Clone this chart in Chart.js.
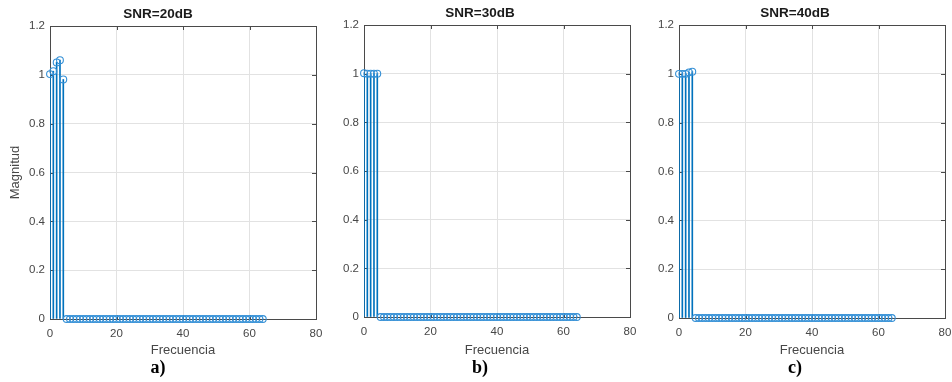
<!DOCTYPE html>
<html>
<head>
<meta charset="utf-8">
<script src="https://cdn.jsdelivr.net/npm/chart.js@4/dist/chart.umd.min.js"></script>
<style>
    html, body {margin: 0; padding: 0; background: #fff; overflow: hidden;}
    #wrap {position: relative; width: 952px; height: 382px; overflow: hidden;}
    #wrap canvas {position: absolute; top: 0;}
</style>
</head>
<body>
<div id="wrap">
    <canvas id="chartA"></canvas>
    <canvas id="chartB"></canvas>
    <canvas id="chartC"></canvas>
</div>
<script>
// frequency bins
const freqBins = [
    0, 1, 2, 3, 4, 5, 6, 7, 8, 9, 10, 11, 12, 13, 14, 15, 16, 17, 18, 19, 20, 21,
    22, 23, 24, 25, 26, 27, 28, 29, 30, 31, 32, 33, 34, 35, 36, 37, 38, 39, 40, 41, 42,
    43, 44, 45, 46, 47, 48, 49, 50, 51, 52, 53, 54, 55, 56, 57, 58, 59, 60, 61, 62, 63, 64
];

// magnitude for each SNR
const magSnr20 = [
    1.003, 1.015, 1.051, 1.06, 0.981, 0, 0, 0, 0, 0, 0, 0, 0, 0, 0, 0, 0, 0, 0, 0, 0, 0,
    0, 0, 0, 0, 0, 0, 0, 0, 0, 0, 0, 0, 0, 0, 0, 0, 0, 0, 0, 0, 0,
    0, 0, 0, 0, 0, 0, 0, 0, 0, 0, 0, 0, 0, 0, 0, 0, 0, 0, 0, 0, 0, 0
];
const magSnr30 = [
    1.002, 1.0, 1.0, 1.0, 1.0, 0, 0, 0, 0, 0, 0, 0, 0, 0, 0, 0, 0, 0, 0, 0, 0, 0,
    0, 0, 0, 0, 0, 0, 0, 0, 0, 0, 0, 0, 0, 0, 0, 0, 0, 0, 0, 0, 0,
    0, 0, 0, 0, 0, 0, 0, 0, 0, 0, 0, 0, 0, 0, 0, 0, 0, 0, 0, 0, 0, 0
];
const magSnr40 = [
    1.0, 1.0, 1.0, 1.006, 1.009, 0, 0, 0, 0, 0, 0, 0, 0, 0, 0, 0, 0, 0, 0, 0, 0, 0,
    0, 0, 0, 0, 0, 0, 0, 0, 0, 0, 0, 0, 0, 0, 0, 0, 0, 0, 0, 0, 0,
    0, 0, 0, 0, 0, 0, 0, 0, 0, 0, 0, 0, 0, 0, 0, 0, 0, 0, 0, 0, 0, 0
];

const panelTitles = ["SNR=20dB", "SNR=30dB", "SNR=40dB"];
const panelCaptions = ["a)", "b)", "c)"];
const xLabel = "Frecuencia";
const yLabel = "Magnitud";

const stemColor = "#0072BD";
const markerColor = "#3590d6";
const textColor = "#474747";
const sans = "'Liberation Sans', Arial, sans-serif";

// box round the plot area with small inward ticks, drawn under the stems
const axesBox = {
    id: "axesBox",
    beforeDatasetsDraw(chart) {
        const {ctx, chartArea: a, scales: {x, y}} = chart;
        const t = 4;
        ctx.save();
        ctx.strokeStyle = "#4a4a4a";
        ctx.lineWidth = 1;
        ctx.strokeRect(Math.round(a.left) + 0.5, Math.round(a.top) + 0.5,
            Math.round(a.right - a.left), Math.round(a.bottom - a.top));
        ctx.beginPath();
        x.ticks.forEach(tk => {
            const px = Math.round(x.getPixelForValue(tk.value)) + 0.5;
            ctx.moveTo(px, a.bottom); ctx.lineTo(px, a.bottom - t);
            ctx.moveTo(px, a.top); ctx.lineTo(px, a.top + t);
        });
        y.ticks.forEach(tk => {
            const py = Math.round(y.getPixelForValue(tk.value)) + 0.5;
            ctx.moveTo(a.left, py); ctx.lineTo(a.left + t, py);
            ctx.moveTo(a.right, py); ctx.lineTo(a.right - t, py);
        });
        ctx.stroke();
        ctx.restore();
    }
};

function makePanel(canvas, title, caption, values, g) {
    canvas.width = g.width;
    canvas.height = 382;
    canvas.style.left = g.left + "px";

    const pts = freqBins.map((f, i) => ({x: f, y: values[i]}));

    return new Chart(canvas, {
        type: "bar",
        data: {
            datasets: [
                {
                    type: "bar",
                    data: pts,
                    backgroundColor: stemColor,
                    borderWidth: 0,
                    barThickness: 1,
                    order: 2
                },
                {
                    type: "scatter",
                    data: pts,
                    showLine: false,
                    clip: false,
                    pointRadius: 3.4,
                    pointBorderWidth: 1.1,
                    pointBorderColor: markerColor,
                    pointBackgroundColor: "rgba(0,0,0,0)",
                    order: 1
                }
            ]
        },
        options: {
            responsive: false,
            animation: false,
            layout: {padding: {left: 0, right: g.padRight, top: 0, bottom: 0}},
            plugins: {
                legend: {display: false},
                tooltip: {enabled: false},
                title: {
                    display: true,
                    text: title,
                    color: "#1a1a1a",
                    font: {family: sans, size: 13.5, weight: "bold", lineHeight: 1.2},
                    padding: {top: g.top - 19.6, bottom: 3.4}
                },
                subtitle: {
                    display: true,
                    position: "bottom",
                    text: caption,
                    color: "#000",
                    font: {family: "'Liberation Serif', 'Times New Roman', serif", size: 18, weight: "bold", lineHeight: 1.2},
                    padding: {top: 0, bottom: 2.4}
                }
            },
            scales: {
                x: {
                    type: "linear",
                    min: 0,
                    max: 80,
                    offset: false,
                    afterFit: s => { s.height = 382 - 24 - g.bottom; },
                    ticks: {stepSize: 20, color: textColor, font: {family: sans, size: 11.5}, padding: 8, maxRotation: 0},
                    grid: {color: "#e2e2e2", drawTicks: false, offset: false},
                    border: {display: false},
                    title: {display: true, text: xLabel, color: textColor, font: {family: sans, size: 13}, padding: 0}
                },
                y: {
                    min: 0,
                    max: 1.2,
                    afterFit: s => { s.width = g.axisWidth; },
                    ticks: {
                        stepSize: 0.2,
                        color: textColor,
                        font: {family: sans, size: 11.5},
                        padding: 5,
                        callback: v => String(Number(v.toFixed(1)))
                    },
                    grid: {color: "#e2e2e2", drawTicks: false},
                    border: {display: false},
                    title: {display: g.showY, text: yLabel, color: textColor, font: {family: sans, size: 13}, padding: {top: 8, bottom: 0}}
                }
            }
        },
        plugins: [axesBox]
    });
}

// placement of each panel on the page
const layouts = [
    {left: 0, width: 366, axisWidth: 50, padRight: 50, top: 26, bottom: 319, showY: true},
    {left: 330, width: 334, axisWidth: 34, padRight: 34, top: 25, bottom: 317, showY: false},
    {left: 645, width: 334, axisWidth: 34, padRight: 34, top: 25, bottom: 318, showY: false}
];

const canvases = [
    document.getElementById("chartA"),
    document.getElementById("chartB"),
    document.getElementById("chartC")
];
const series = [magSnr20, magSnr30, magSnr40];

canvases.forEach((c, i) => makePanel(c, panelTitles[i], panelCaptions[i], series[i], layouts[i]));
</script>
</body>
</html>
